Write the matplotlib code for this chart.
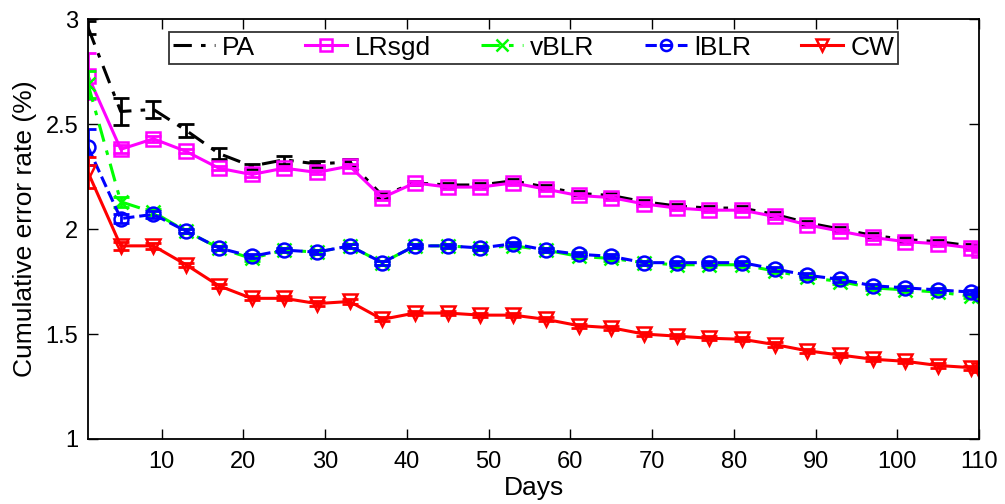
from matplotlib import pyplot as plt
import numpy as np

plt.rcParams['font.family'] = ['Liberation Sans', 'DejaVu Sans']

days = [1, 5, 9, 13, 17, 21, 25, 29, 33, 37, 41, 45, 49, 53, 57, 61, 65, 69,
        73, 77, 81, 85, 89, 93, 97, 101, 105, 109, 110]

pa = [2.96, 2.56, 2.57, 2.47, 2.36, 2.30, 2.33, 2.31, 2.32, 2.16, 2.22, 2.21, 2.21, 2.23, 2.20,
      2.17, 2.16, 2.13, 2.11, 2.10, 2.10, 2.07, 2.03, 2.00, 1.97, 1.95, 1.94, 1.92, 1.91]
lrsgd = [2.73, 2.38, 2.43, 2.37, 2.29, 2.26, 2.29, 2.27, 2.30, 2.15, 2.22, 2.20, 2.20, 2.22, 2.19,
         2.16, 2.15, 2.12, 2.10, 2.09, 2.09, 2.06, 2.02, 1.99, 1.96, 1.94, 1.93, 1.91, 1.90]
vblr = [2.69, 2.13, 2.08, 1.99, 1.91, 1.86, 1.90, 1.89, 1.92, 1.84, 1.92, 1.92, 1.91, 1.92, 1.90,
        1.87, 1.86, 1.84, 1.83, 1.83, 1.83, 1.80, 1.77, 1.75, 1.72, 1.71, 1.70, 1.68, 1.68]
iblr = [2.39, 2.05, 2.07, 1.99, 1.91, 1.87, 1.90, 1.89, 1.92, 1.84, 1.92, 1.92, 1.91, 1.93, 1.90,
        1.88, 1.87, 1.84, 1.84, 1.84, 1.84, 1.81, 1.78, 1.76, 1.73, 1.72, 1.71, 1.70, 1.69]
cw = [2.27, 1.92, 1.92, 1.83, 1.73, 1.67, 1.67, 1.645, 1.655, 1.57, 1.60, 1.60, 1.59, 1.59, 1.57,
      1.54, 1.53, 1.50, 1.49, 1.48, 1.475, 1.45, 1.42, 1.40, 1.38, 1.37, 1.35, 1.34, 1.33]

# standard deviations over runs
pa_err = [0.03, 0.065, 0.04, 0.03, 0.025, 0.012, 0.02, 0.012, 0.015] + [0.01] * 20
lrsgd_err = [0.11, 0.02, 0.015] + [0.01] * 26
vblr_err = [0.065, 0.025, 0.015] + [0.01] * 26
iblr_err = [0.085, 0.02, 0.015] + [0.01] * 26
cw_err = [0.075, 0.02, 0.015] + [0.01] * 26

fig = plt.figure(figsize=(10.05, 5.04), dpi=100)
ax = fig.add_axes([0.0876, 0.129, 0.8866, 0.833])

series = [
    (pa, pa_err, 'k', (0, (6, 3, 1.5, 3)), 'None', 'PA'),
    (lrsgd, lrsgd_err, '#ff00ff', '-', 's', 'LRsgd'),
    (vblr, vblr_err, '#00ff00', (0, (6, 3, 1.5, 3)), 'x', 'vBLR'),
    (iblr, iblr_err, '#0000ff', '--', 'o', 'lBLR'),
    (cw, cw_err, '#ff0000', '-', 'v', 'CW'),
]

for y, e, c, ls, m, name in series:
    ax.errorbar(days, y, yerr=e, fmt='none', ecolor=c, elinewidth=2, capsize=6, capthick=2)
    ax.plot(days, y, color=c, linestyle=ls, linewidth=2.2, marker=m, markersize=10,
            markerfacecolor='none', markeredgewidth=1.8, label=name)

ax.set_xlim(1, 110)
ax.set_ylim(1, 3)
ax.set_xticks(np.arange(10, 111, 10))
ax.set_yticks([1, 1.5, 2, 2.5, 3])
ax.set_yticklabels(['1', '1.5', '2', '2.5', '3'])
ax.tick_params(direction='in', top=True, right=True, labelsize=17, length=7, width=1)
ax.tick_params(axis='x', pad=9)
ax.tick_params(axis='y', pad=7)
for s in ax.spines.values():
    s.set_linewidth(1.3)

ax.set_xlabel('Days', fontsize=19, labelpad=2)
ax.set_ylabel('Cumulative error rate (%)', fontsize=19, labelpad=6)

leg = ax.legend(loc='upper center', bbox_to_anchor=(0.5, 0.97), ncol=5, fontsize=19,
                frameon=True, fancybox=False, edgecolor='k', handlelength=1.6,
                columnspacing=1.9, borderpad=0.15, borderaxespad=0, handletextpad=0.27,
                markerscale=0.8)
leg.get_frame().set_linewidth(1.3)

plt.savefig('out.png', dpi=100)
